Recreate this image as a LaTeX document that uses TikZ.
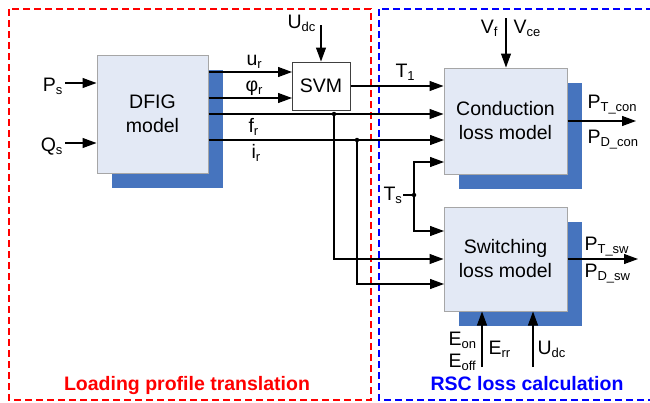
\documentclass[tikz,border=0pt]{standalone}
\usepackage{fontspec}
\setmainfont{Liberation Sans}
\usetikzlibrary{arrows.meta,shadows}
\definecolor{boxfill}{HTML}{E3E9F5}
\definecolor{shadowblue}{HTML}{4674BE}
\definecolor{boxline}{HTML}{A6A6A6}
\newcommand{\lo}[1]{\raisebox{-3pt}{\fontsize{13}{13}\selectfont #1}}

\begin{document}
\begin{tikzpicture}[x=1pt,y=-1pt,>={Triangle[length=14pt,width=10pt]},
  font=\fontsize{19.5}{24}\selectfont,
  model/.style={draw=boxline, line width=1pt, fill=boxfill, align=center, inner sep=0pt,
    general shadow={fill=shadowblue, shadow xshift=15pt, shadow yshift=-15pt}},
  lbl/.style={inner sep=0pt, anchor=base west},
  dot/.style={circle, fill, inner sep=0pt, minimum size=4.5pt},
  every path/.style={line width=1.1pt}]

\useasboundingbox (0,0) rectangle (650,402);

% frames
\draw[red, line width=1.5pt, dash pattern=on 7pt off 4pt] (9,9) rectangle (371,400);
\draw[blue, line width=1.5pt, dash pattern=on 7pt off 4pt] (379,9) rectangle (664,400);

% blocks
\node[model, minimum width=111pt, minimum height=118pt] (dfig) at (152.5,114) {DFIG\\model};
\node[draw=black!75, line width=1pt, fill=white, inner sep=0pt, minimum width=58pt, minimum height=48pt] (svm) at (321,86) {SVM};
\node[model, minimum width=123pt, minimum height=106pt] (con) at (505.5,121) {Conduction\\loss model};
\node[model, minimum width=123pt, minimum height=104pt] (sw) at (505.5,259) {Switching\\loss model};

% free ends
\coordinate (ps) at (65,83);
\coordinate (qs) at (65,143);
\coordinate (udc) at (321,25);
\coordinate (ur) at (292,72);
\coordinate (phir) at (292,98);
\coordinate (ir) at (444,140);
\coordinate (con4) at (444,162);
\coordinate (sw1) at (444,231);
\coordinate (sw3) at (444,284);
\coordinate (ts) at (403,195);
\coordinate (vin) at (506,18);
\coordinate (pcon) at (636,121);
\coordinate (psw) at (638,259);
\coordinate (err) at (482,367);
\coordinate (udcsw) at (533,367);

\node[dot] (j1) at (334,114) {};
\node[dot] (j2) at (357,140) {};
\node[dot] (j3) at (414,195) {};

\draw[->] (ps) -- (ps -| dfig.west);
\draw[->] (qs) -- (qs -| dfig.west);
\draw[->] (dfig.east |- ur) -- (ur);
\draw[->] (dfig.east |- phir) -- (phir);
\draw[->] (udc) -- (svm.north);
\draw[->] (svm.east) -- (svm.east -| con.west);
\draw[->] (dfig.east) -- (dfig.east -| con.west);
\draw[->] (dfig.east |- ir) -- (ir);
\draw[->] (j1.center) |- (sw.west);
\draw[->] (j2.center) |- (sw3);
\draw (ts) -- (j3.center);
\draw[->] (j3.center) |- (con4);
\draw[->] (j3.center) |- (sw1);
\draw[->] (vin) -- (vin |- con.north);
\draw[->] (con.east) -- (pcon);
\draw[->] (sw.east) -- (psw);
\draw[->] (err) -- (err |- sw.south);
\draw[->] (udcsw) -- (udcsw |- sw.south);

% labels
\node[lbl, anchor=base east] (lps) at (63,91) {P\lo{s}};
\node[lbl, anchor=base east] (lqs) at (63,151) {Q\lo{s}};
\node[lbl, anchor=base east] (ludc) at (316,28) {U\lo{dc}};
\node[lbl] (lur) at (246,65) {u\lo{r}};
\node[lbl] (lphir) at (245,91) {φ\lo{r}};
\node[lbl] (lfr) at (248,132) {f\lo{r}};
\node[lbl] (lir) at (251,158) {i\lo{r}};
\node[lbl] (lt1) at (395,77) {T\lo{1}};
\node[lbl, anchor=base east] (lvf) at (498,33) {V\lo{f}};
\node[lbl] (lvce) at (513,33) {V\lo{ce}};
\node[lbl] (lptc) at (587,108) {P\lo{T\_con}};
\node[lbl] (lpdc) at (587,143) {P\lo{D\_con}};
\node[lbl] (lts) at (383,200) {T\lo{s}};
\node[lbl] (lpts) at (584,250) {P\lo{T\_sw}};
\node[lbl] (lpds) at (584,277) {P\lo{D\_sw}};
\node[lbl] (leon) at (448,345) {E\lo{on}};
\node[lbl] (leoff) at (448,367) {E\lo{off}};
\node[lbl] (lerr) at (488,354) {E\lo{rr}};
\node[lbl] (ludc2) at (537,354) {U\lo{dc}};

\node[anchor=base, inner sep=0pt, text=red, font=\fontsize{19.5}{24}\selectfont\bfseries] (ttl1) at (187,390) {Loading profile translation};
\node[anchor=base, inner sep=0pt, text=blue, font=\fontsize{19.5}{24}\selectfont\bfseries] (ttl2) at (527,390) {RSC loss calculation};
\end{tikzpicture}
\end{document}
